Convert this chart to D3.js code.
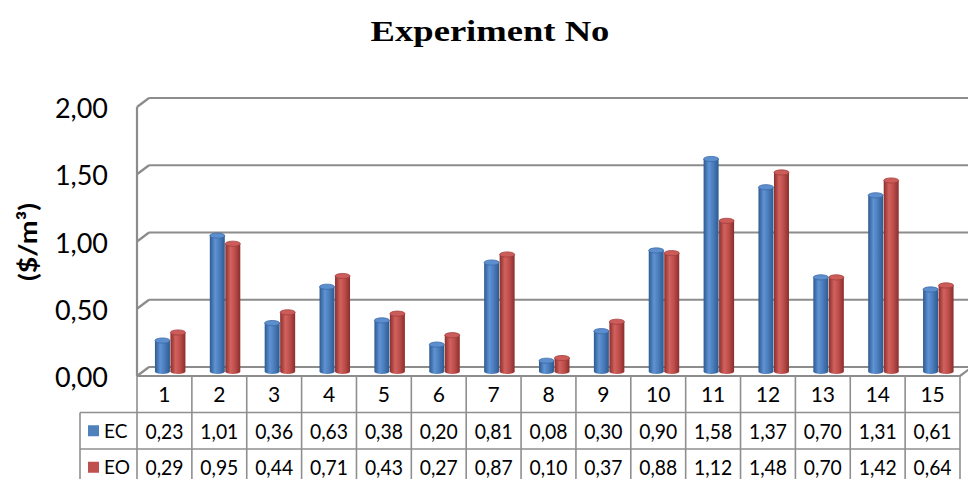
<!DOCTYPE html>
<html>
<head>
<meta charset="utf-8">
<script src="https://cdn.jsdelivr.net/npm/d3@7"></script>
<style>
body { margin: 0; background: #fff; }
text { font-family: Lato, "Open Sans", sans-serif; fill: #000; }
</style>
</head>
<body>
<div id="drawing"></div>
<script>
"use strict"

/**** DATA ****/

let categories = ["1","2","3","4","5","6","7","8","9","10","11","12","13","14","15"]
let series = ["EC","EO"]
let ecValues = [0.23,1.01,0.36,0.63,0.38,0.20,0.81,0.08,0.30,0.90,1.58,1.37,0.70,1.31,0.61]
let eoValues = [0.29,0.95,0.44,0.71,0.43,0.27,0.87,0.10,0.37,0.88,1.12,1.48,0.70,1.42,0.64]
let yTicks = [0,0.5,1,1.5,2]


/**** CONFIGURATION ****/

let svgWidth = 968
let svgHeight = 479

let frontLeft = 137
let tableRight = 960
let depthX = 12
let depthY = 9
let floorBack = 367
let wallTop = 98

let colors = {EC:"#4f81bd", EO:"#c0504d"}

let comma = d3.formatLocale({decimal:",", thousands:".", grouping:[3], currency:["","$"]}).format(".2f")


/**** CANVAS SETUP ****/

let svg = d3.select("#drawing")
.append("svg")
.attr("width", svgWidth)
.attr("height", svgHeight)

let defs = svg.append("defs")

function cylGradient(id, dark, mid, light){
    let g = defs.append("linearGradient")
    .attr("id", id)
    .attr("x1","0").attr("x2","1").attr("y1","0").attr("y2","0")
    g.append("stop").attr("offset","0%").attr("stop-color",dark)
    g.append("stop").attr("offset","35%").attr("stop-color",light)
    g.append("stop").attr("offset","65%").attr("stop-color",mid)
    g.append("stop").attr("offset","100%").attr("stop-color",dark)
}
cylGradient("gEC", "#2d5a90", "#4a7cba", "#5f93d4")
cylGradient("gEO", "#8a2e2c", "#bd4d4a", "#d2625e")


/**** SCALES ****/

let xScale = d3.scaleBand()
.domain(categories)
.range([frontLeft, tableRight])

let xInner = d3.scaleBand()
.domain(series)
.range([0, 31])

let yScale = d3.scaleLinear()
.domain([0,2])
.range([floorBack, wallTop])

// bars stand in the middle of the floor depth
let barShiftX = depthX/2
let barShiftY = depthY/2


/**** TITLE ****/

svg.append("text")
.attr("transform","translate(490,41) scale(1.22,1)")
.style("font-family","'Liberation Serif', 'Times New Roman', serif")
.style("font-weight","bold")
.style("font-size","30px")
.style("text-anchor","middle")
.text("Experiment No")


/**** WALLS AND GRIDLINES ****/

let grid = svg.append("g")
.attr("stroke","#8c8c8c")
.attr("stroke-width",2.2)
.attr("fill","none")

yTicks.forEach(function(t){
    grid.append("line")
    .attr("x1",frontLeft+depthX)
    .attr("y1",yScale(t))
    .attr("x2",svgWidth+20)
    .attr("y2",yScale(t))

    grid.append("line")
    .attr("x1",frontLeft)
    .attr("y1",yScale(t)+depthY)
    .attr("x2",frontLeft+depthX)
    .attr("y2",yScale(t))
})

// side wall front edge
grid.append("line")
.attr("x1",frontLeft)
.attr("y1",yScale(2)+depthY)
.attr("x2",frontLeft)
.attr("y2",yScale(0)+depthY)

// floor front edge
grid.append("line")
.attr("x1",frontLeft)
.attr("y1",yScale(0)+depthY)
.attr("x2",tableRight)
.attr("y2",yScale(0)+depthY)

grid.append("line")
.attr("x1",tableRight)
.attr("y1",yScale(0)+depthY)
.attr("x2",tableRight+depthX)
.attr("y2",yScale(0))


/**** Y AXIS VALUES ****/

yTicks.forEach(function(t){
    svg.append("text")
    .attr("x",108)
    .attr("y",yScale(t)+depthY+11)
    .style("font-size","26px")
    .style("text-anchor","end")
    .attr("textLength",53)
    .attr("lengthAdjust","spacingAndGlyphs")
    .text(comma(t))
})

svg.append("text")
.attr("transform","translate(37,242) rotate(-90)")
.style("font-size","25px")
.style("font-weight","bold")
.style("text-anchor","middle")
.attr("textLength",78)
.attr("lengthAdjust","spacingAndGlyphs")
.text("($/m³)")


/**** BARS ****/

let barData = []
categories.forEach(function(c,i){
    barData.push({cat:c, s:"EC", v:ecValues[i]})
    barData.push({cat:c, s:"EO", v:eoValues[i]})
})

let barW = 15
let capRy = 2.6

let bars = svg.selectAll("g.bar")
.data(barData)
.join("g")
.attr("class","bar")
.attr("transform",d=>"translate(" + (xScale(d.cat) + (xScale.bandwidth()-31)/2 + barShiftX + xInner(d.s)) + ",0)")

bars.append("ellipse")
.attr("cx",barW/2)
.attr("cy",yScale(0)+barShiftY)
.attr("rx",barW/2)
.attr("ry",capRy)
.attr("fill",d=>"url(#g"+d.s+")")

bars.append("rect")
.attr("x",0)
.attr("y",d=>yScale(d.v)+barShiftY)
.attr("width",barW)
.attr("height",d=>yScale(0)-yScale(d.v))
.attr("fill",d=>"url(#g"+d.s+")")

bars.append("ellipse")
.attr("cx",barW/2)
.attr("cy",d=>yScale(d.v)+barShiftY)
.attr("rx",barW/2)
.attr("ry",capRy)
.attr("fill",d=>d.s=="EC" ? "#5d8fcf" : "#cc5c59")
.attr("stroke",d=>d.s=="EC" ? "#3b6aa6" : "#a23f3c")
.attr("stroke-width",0.8)


/**** DATA TABLE ****/

let tableTop = yScale(0)+depthY
let rowH = 36.5
let legendLeft = 80

let table = svg.append("g")
.attr("stroke","#8f8f8f")
.attr("stroke-width",1.6)

categories.forEach(function(c){
    table.append("line")
    .attr("x1",xScale(c))
    .attr("y1",tableTop)
    .attr("x2",xScale(c))
    .attr("y2",svgHeight+10)
})
table.append("line")
.attr("x1",tableRight).attr("y1",tableTop)
.attr("x2",tableRight).attr("y2",svgHeight+10)

for(let r=1;r<=2;r++){
    table.append("line")
    .attr("x1",legendLeft)
    .attr("y1",tableTop+r*rowH)
    .attr("x2",tableRight)
    .attr("y2",tableTop+r*rowH)
}

table.append("line")
.attr("x1",legendLeft).attr("y1",tableTop+rowH)
.attr("x2",legendLeft).attr("y2",svgHeight+10)

// header row
svg.selectAll("text.head")
.data(categories)
.join("text")
.attr("class","head")
.attr("x",d=>xScale(d)+xScale.bandwidth()/2)
.attr("y",tableTop+rowH/2+8)
.style("font-size","21px")
.style("text-anchor","middle")
.text(d=>d)

// value rows
let rows = [ecValues, eoValues]
series.forEach(function(s,r){
    let cy = tableTop+(r+1.5)*rowH

    svg.append("rect")
    .attr("x",88)
    .attr("y",cy-5.5)
    .attr("width",11)
    .attr("height",11)
    .attr("fill",colors[s])

    svg.append("text")
    .attr("x",104)
    .attr("y",cy+7)
    .style("font-size","19px")
    .text(s)

    svg.selectAll("text.val"+s)
    .data(rows[r])
    .join("text")
    .attr("class","val"+s)
    .attr("x",(d,i)=>xScale(categories[i])+xScale.bandwidth()/2)
    .attr("y",cy+8)
    .style("font-size","21px")
    .style("text-anchor","middle")
    .attr("textLength",38)
    .attr("lengthAdjust","spacingAndGlyphs")
    .text(d=>comma(d))
})
</script>
</body>
</html>
